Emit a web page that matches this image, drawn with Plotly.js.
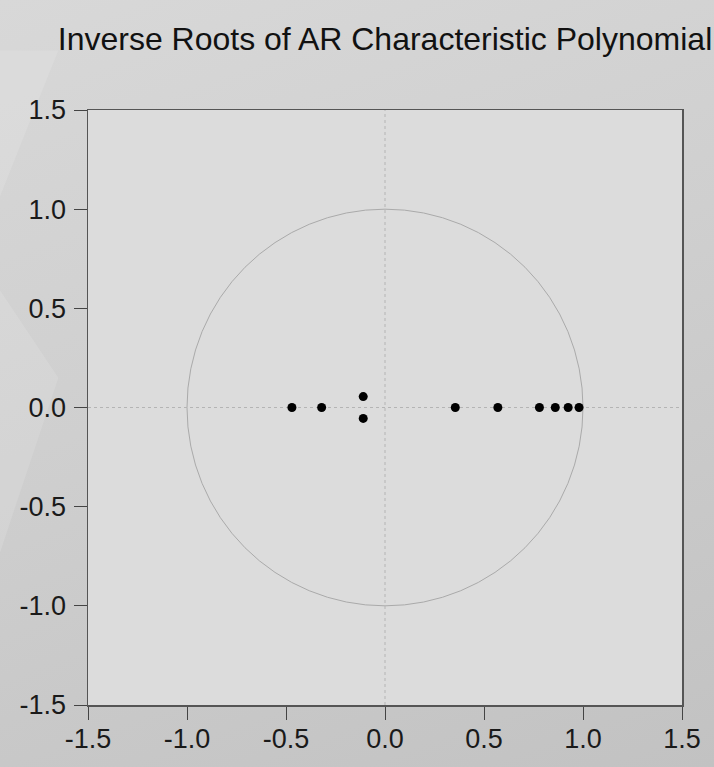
<!DOCTYPE html>
<html>
<head>
<meta charset="utf-8">
<script src="https://cdn.plot.ly/plotly-3.0.1.min.js"></script>
<style>
html,body{margin:0;padding:0;width:714px;height:767px;overflow:hidden;
background:linear-gradient(160deg,#d8d8d8 0%,#cfcfcf 45%,#c2c2c2 100%);}
#chart{width:714px;height:767px;}
</style>
</head>
<body>
<div id="chart"></div>
<script>
var rootReal = [-0.47, -0.32, -0.11, -0.11, 0.355, 0.57, 0.78, 0.86, 0.925, 0.98];
var rootImag = [0, 0, 0.055, -0.055, 0, 0, 0, 0, 0, 0];
var tickValues = [-1.5, -1.0, -0.5, 0.0, 0.5, 1.0, 1.5];
var tickLabels = ["-1.5", "-1.0", "-0.5", "0.0", "0.5", "1.0", "1.5"];
var chartTitle = "Inverse Roots of AR Characteristic Polynomial";

var trace = {
  x: rootReal, y: rootImag, type: "scatter", mode: "markers",
  marker: {color: "#000000", size: 9},
  hoverinfo: "x+y", showlegend: false
};

var axisCommon = {
  range: [-1.5, 1.5], tickmode: "array", tickvals: tickValues, ticktext: tickLabels,
  ticks: "outside", ticklen: 13, tickwidth: 1, tickcolor: "#444",
  showgrid: false, zeroline: false, showline: true, mirror: true,
  linecolor: "#555", linewidth: 1.5,
  tickfont: {family: "Liberation Sans, Arial, sans-serif", size: 27, color: "#1a1a1a"}
};

var layout = {
  width: 714, height: 767,
  margin: {l: 88, r: 32, t: 110, b: 62},
  paper_bgcolor: "rgba(0,0,0,0)",
  plot_bgcolor: "#dcdcdc",
  title: {
    text: chartTitle, xref: "paper", x: 0.5, xanchor: "center",
    yref: "container", y: 0.950, yanchor: "middle",
    font: {family: "Liberation Sans, Arial, sans-serif", size: 32, color: "#111"}
  },
  xaxis: Object.assign({}, axisCommon, {ticklabelstandoff: -4}),
  yaxis: Object.assign({}, axisCommon, {ticklabelstandoff: 2}),
  shapes: [
    {type: "path", xref: "paper", yref: "paper", layer: "below",
     path: "M -0.15 1.1 L -0.05 1.1 L -0.15 0.85 Z",
     fillcolor: "rgba(255,255,255,0.12)", line: {width: 0}},
    {type: "path", xref: "paper", yref: "paper", layer: "below",
     path: "M -0.15 0.7 L -0.05 0.55 L -0.15 0.25 Z",
     fillcolor: "rgba(255,255,255,0.12)", line: {width: 0}},
    {type: "circle", xref: "x", yref: "y", x0: -1, x1: 1, y0: -1, y1: 1,
     line: {color: "#aaaaaa", width: 1}, layer: "below"},
    {type: "line", xref: "x", yref: "y", x0: 0, x1: 0, y0: -1.5, y1: 1.5,
     line: {color: "#b4b4b4", width: 1, dash: "3px,3px"}, layer: "below"},
    {type: "line", xref: "x", yref: "y", x0: -1.5, x1: 1.5, y0: 0, y1: 0,
     line: {color: "#b4b4b4", width: 1, dash: "3px,3px"}, layer: "below"}
  ]
};

Plotly.newPlot("chart", [trace], layout, {displayModeBar: false, staticPlot: true});
</script>
</body>
</html>
